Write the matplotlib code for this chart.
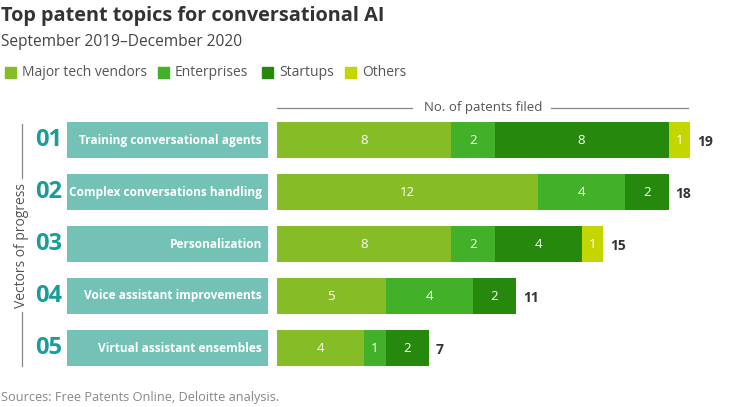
import matplotlib
matplotlib.use("Agg")
import matplotlib.pyplot as plt
from matplotlib.lines import Line2D
from matplotlib.patches import Rectangle
from matplotlib import font_manager
import numpy as np

# data
topics = ["Training conversational agents", "Complex conversations handling",
          "Personalization", "Voice assistant improvements", "Virtual assistant ensembles"]
numbers = ["01", "02", "03", "04", "05"]
groups = ["Major tech vendors", "Enterprises", "Startups", "Others"]
major = [8, 12, 8, 5, 4]
enterprises = [2, 4, 2, 4, 1]
startups = [8, 2, 4, 2, 2]
others = [1, 0, 1, 0, 0]
colors = ["#86BC25", "#43B02A", "#26890D", "#C4D600"]

W, H = 747, 407
fig = plt.figure(figsize=(W / 100, H / 100), dpi=100)
plt.rcParams['font.family'] = ['Open Sans', 'DejaVu Sans']

names = {f.name for f in font_manager.fontManager.ttflist}
narrow = 'Liberation Sans Narrow' if 'Liberation Sans Narrow' in names else 'Open Sans'
lab_size = 10 if narrow == 'Liberation Sans Narrow' else 8.6

def fx(px):
    return px / W

def fy(py):
    return 1 - py / H

# title, subtitle
fig.text(fx(1), fy(16), "Top patent topics for conversational AI", fontsize=14.3,
         fontweight='bold', color='#333333', va='center', ha='left')
fig.text(fx(1), fy(42), "September 2019\u2013December 2020", fontsize=11.2,
         color='#444444', va='center', ha='left')

# legend
leg_x = [5, 158, 262, 345]
for x0, g, c in zip(leg_x, groups, colors):
    fig.patches.append(Rectangle((fx(x0), fy(78)), fx(11), 11 / H, color=c,
                                 transform=fig.transFigure))
    fig.text(fx(x0 + 17), fy(72), g, fontsize=10, color='#555555', va='center', ha='left')

# bars axis
top, bottom = 114, 374
ax = fig.add_axes([fx(277), fy(bottom), fx(740 - 277), (bottom - top) / H])
y = np.arange(len(topics))
vals = np.array([major, enterprises, startups, others])
left = np.zeros(len(topics))
for i, c in enumerate(colors):
    ax.barh(y, vals[i], left=left, height=0.69, color=c)
    for j in range(len(topics)):
        if vals[i][j] > 0:
            ax.text(left[j] + vals[i][j] / 2, y[j], str(vals[i][j]), color='white',
                    fontsize=9.5, ha='center', va='center')
    left = left + vals[i]
for j in range(len(topics)):
    ax.text(left[j] + 0.3, y[j] + 0.03, str(int(left[j])), fontsize=10,
            fontweight='bold', color='#333333', ha='left', va='center')
ax.set_xlim(0, (740 - 277) / 21.75)
ax.set_ylim(len(topics) - 0.5, -0.5)
ax.axis('off')

# label boxes
lab = fig.add_axes([fx(67), fy(bottom), fx(268 - 67), (bottom - top) / H])
lab.barh(y, [1] * len(topics), height=0.69, color='#74C2B6')
for j, t in enumerate(topics):
    lab.text(0.97, y[j], t, color='white', fontsize=lab_size, fontweight='bold',
             family=narrow, ha='right', va='center')
    lab.text(-0.09, y[j], numbers[j], color='#1A9C98', fontsize=17, fontweight='bold',
             family=narrow, ha='center', va='center', clip_on=False)
lab.set_xlim(0, 1)
lab.set_ylim(len(topics) - 0.5, -0.5)
lab.axis('off')

# axis header line
fig.text(fx(483), fy(107), "No. of patents filed", fontsize=9.5, color='#555555',
         ha='center', va='center')
fig.lines.append(Line2D([fx(277), fx(412)], [fy(108), fy(108)], color='#888888',
                        lw=0.9, transform=fig.transFigure))
fig.lines.append(Line2D([fx(551), fx(688)], [fy(108), fy(108)], color='#888888',
                        lw=0.9, transform=fig.transFigure))

# vertical bracket
fig.lines.append(Line2D([fx(22), fx(22)], [fy(124), fy(178)], color='#888888',
                        lw=0.9, transform=fig.transFigure))
fig.lines.append(Line2D([fx(22), fx(22)], [fy(312), fy(366)], color='#888888',
                        lw=0.9, transform=fig.transFigure))
fig.text(fx(22), fy(245), "Vectors of progress", rotation=90, fontsize=10,
         color='#555555', ha='center', va='center')

# source
fig.text(fx(1), fy(398), "Sources: Free Patents Online, Deloitte analysis.", fontsize=9.2,
         color='#888888', ha='left', va='center')

fig.savefig("out.png", dpi=100, facecolor='white')
